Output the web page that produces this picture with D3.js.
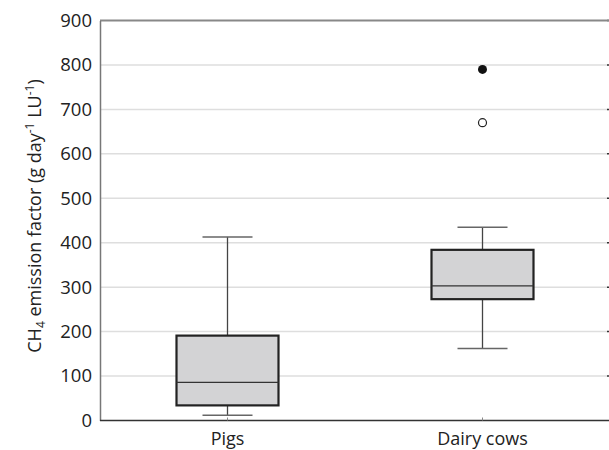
<!DOCTYPE html>
<html><head><meta charset="utf-8">
<script src="https://cdn.jsdelivr.net/npm/d3@7"></script>
<style>body{margin:0;background:#fff}svg{display:block}text{font-family:"Open Sans",sans-serif;fill:#222}</style>
</head><body><svg id="c" width="609" height="450"></svg>
<script>
const categories = ["Pigs", "Dairy cows"];
const whiskerLow = [12, 162];
const q1 = [34, 273];
const median = [86, 303];
const q3 = [191, 384];
const whiskerHigh = [413, 435];
const outliersOpen = [[], [670]];
const outliersFilled = [[], [790]];
const yTicks = [0, 100, 200, 300, 400, 500, 600, 700, 800, 900];

const svg = d3.select("#c");
const m = {l: 100, r: 0, t: 20.5, b: 29.5};
const W = 609, H = 450;
const x = d3.scaleBand().domain(categories).range([m.l, 610]).padding(0);
const y = d3.scaleLinear().domain([0, 900]).range([H - m.b, m.t]);

// grid
svg.append("g").selectAll("line").data(yTicks.slice(1, -1)).join("line")
  .attr("x1", m.l).attr("x2", 608).attr("y1", d => y(d)).attr("y2", d => y(d))
  .attr("stroke", "#dedede").attr("stroke-width", 1.5);
// right tiny ticks
svg.append("g").selectAll("line").data(yTicks.slice(1)).join("line")
  .attr("x1", 607).attr("x2", 609).attr("y1", d => y(d)).attr("y2", d => y(d))
  .attr("stroke", "#333").attr("stroke-width", 1.5);
// top border
svg.append("line").attr("x1", m.l).attr("x2", 609).attr("y1", y(900)).attr("y2", y(900))
  .attr("stroke", "#888").attr("stroke-width", 2);

// y axis
const ya = svg.append("g").attr("transform", `translate(${m.l},0)`)
  .call(d3.axisLeft(y).tickValues(yTicks).tickSize(0).tickPadding(8));
ya.select(".domain").attr("stroke", "#777").attr("stroke-width", 1.5);
ya.selectAll("text").attr("font-size", 18.5).style("font-family", "'Open Sans',sans-serif").attr("fill", "#222");

// x axis
const xa = svg.append("g").attr("transform", `translate(0,${y(0)})`)
  .call(d3.axisBottom(x).tickSize(-3).tickPadding(12));
xa.select(".domain").attr("stroke", "#333").attr("stroke-width", 1.5).attr("d", `M${m.l},0H609`);
xa.selectAll(".tick line").attr("stroke", "#888");
xa.selectAll("text").attr("font-size", 18).style("font-family", "'Open Sans',sans-serif").attr("fill", "#222");

// y label
svg.append("text").attr("transform", `translate(41,216) rotate(-90)`).attr("text-anchor", "middle")
  .attr("font-size", 18)
  .html('CH<tspan font-size="12" dy="4">4</tspan><tspan dy="-4"> emission factor (g day</tspan><tspan font-size="12" dy="-7">-1</tspan><tspan dy="7"> LU</tspan><tspan font-size="12" dy="-7">-1</tspan><tspan dy="7">)</tspan>');

const boxW = 102, capW = 50;
const g = svg.append("g");
categories.forEach((c, i) => {
  const cx = x(c) + x.bandwidth() / 2;
  g.append("line").attr("x1", cx).attr("x2", cx).attr("y1", y(whiskerHigh[i])).attr("y2", y(q3[i])).attr("stroke", "#444").attr("stroke-width", 1.3);
  g.append("line").attr("x1", cx).attr("x2", cx).attr("y1", y(q1[i])).attr("y2", y(whiskerLow[i])).attr("stroke", "#444").attr("stroke-width", 1.3);
  [whiskerHigh[i], whiskerLow[i]].forEach(v => {
    g.append("line").attr("x1", cx - capW / 2).attr("x2", cx + capW / 2).attr("y1", y(v)).attr("y2", y(v)).attr("stroke", "#666").attr("stroke-width", 1.5);
  });
  g.append("rect").attr("x", cx - boxW / 2).attr("width", boxW).attr("y", y(q3[i])).attr("height", y(q1[i]) - y(q3[i]))
    .attr("fill", "#d3d3d5").attr("stroke", "#222").attr("stroke-width", 2.2);
  g.append("line").attr("x1", cx - boxW / 2).attr("x2", cx + boxW / 2).attr("y1", y(median[i])).attr("y2", y(median[i])).attr("stroke", "#333").attr("stroke-width", 1.2);
  outliersOpen[i].forEach(v => g.append("circle").attr("cx", cx).attr("cy", y(v)).attr("r", 4).attr("fill", "#fff").attr("stroke", "#222").attr("stroke-width", 1.2));
  outliersFilled[i].forEach(v => g.append("circle").attr("cx", cx).attr("cy", y(v)).attr("r", 4.5).attr("fill", "#111"));
});
</script></body></html>
